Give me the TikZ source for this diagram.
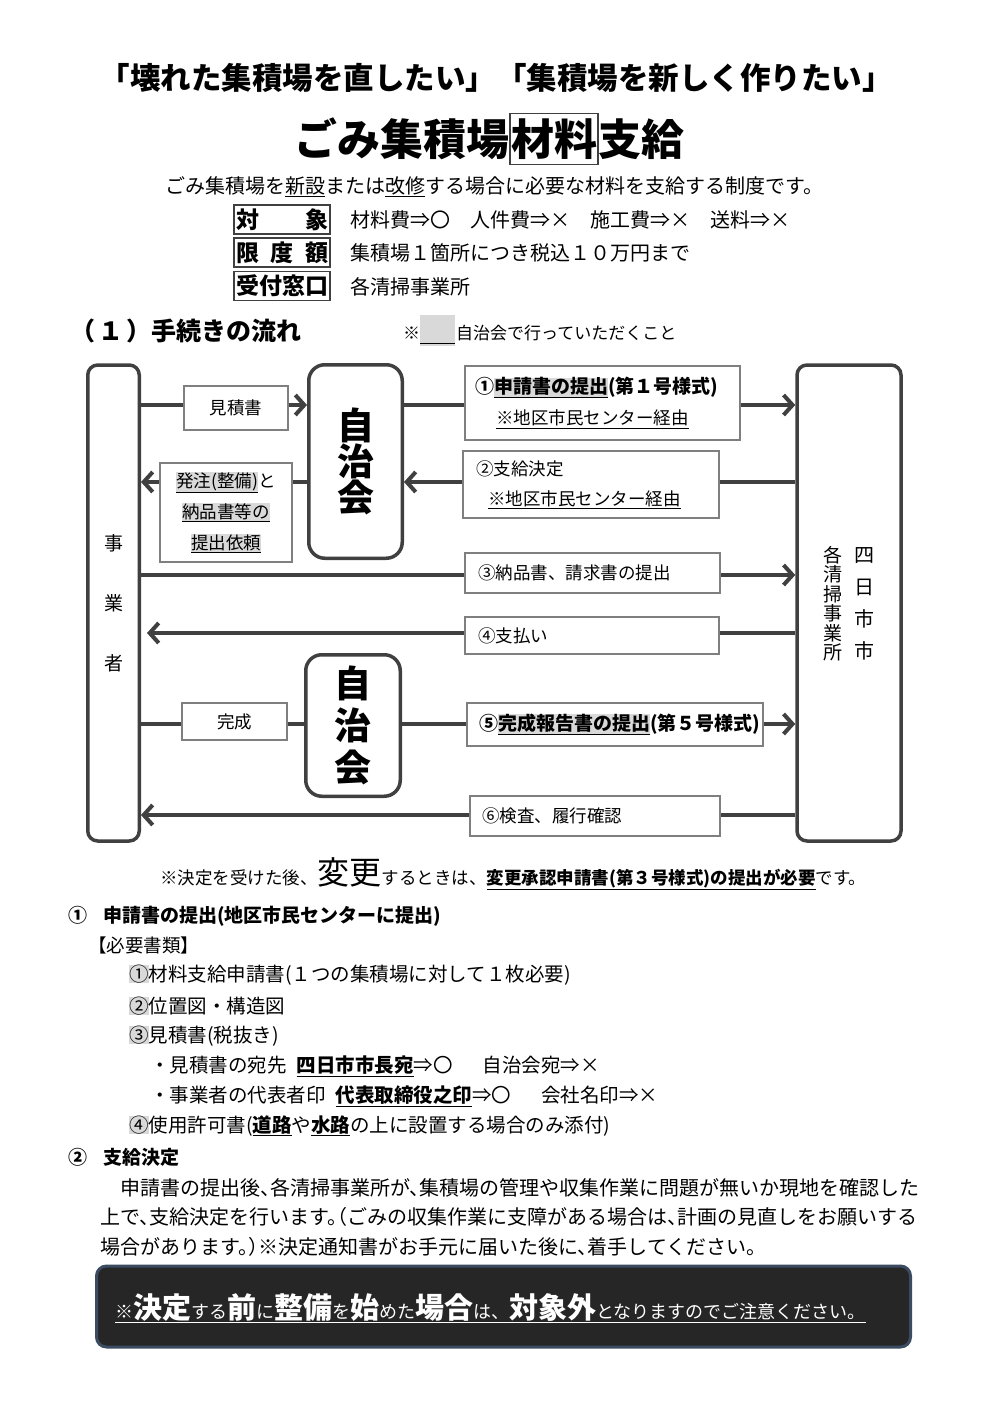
\documentclass[tikz,border=0pt]{standalone}
\usepackage{fontspec}
\setmainfont{Noto Sans CJK JP}
\usetikzlibrary{arrows.meta}
\definecolor{ln}{HTML}{404040}
\definecolor{bx}{HTML}{7F7F7F}
\definecolor{hl}{HTML}{D9D9D9}
\definecolor{dk}{HTML}{262626}
\definecolor{edgec}{HTML}{3B4B61}
\newcommand{\hlu}[1]{{\setlength{\fboxsep}{0pt}\colorbox{hl}{\underline{#1}}}}
\newcommand{\hlx}[1]{{\setlength{\fboxsep}{0pt}\colorbox{hl}{#1}}}
\newcommand{\fs}[1]{\fontsize{#1}{#1}\selectfont}
\newcommand{\BG}[1]{{\bfseries\fontsize{29}{29}\selectfont #1}}
\newcommand{\halt}{\addfontfeature{RawFeature=+halt}}
\begin{document}
\begin{tikzpicture}[x=1pt,y=-1pt,
  big/.style={draw=ln, line width=3.5pt, rounded corners=10pt, fill=white, inner sep=0pt},
  lab/.style={draw=bx, line width=1.2pt, fill=white, inner sep=0pt, font=\fontsize{17.5}{30}\selectfont},
  conn/.style={draw=ln, line width=4pt},
  arr/.style={conn, -{Straight Barb[length=9pt,width=20pt]}},
  hdr/.style={draw=ln, line width=1.5pt, inner sep=0pt, minimum width=96pt, minimum height=29pt, font=\bfseries\fs{23}},
  txt/.style={inner sep=0pt, anchor=west}
]
\fill[white] (0,0) rectangle (993,1404);
\useasboundingbox (0,0) rectangle (993,1404);

% titles
\node[inner sep=0pt, font=\bfseries\fs{30.5}] (t1) at (496,78) {「壊れた集積場を直したい」「集積場を新しく作りたい」};
\node[draw=ln, line width=1.2pt, inner xsep=1pt, inner ysep=5pt, font=\bfseries\fs{43}] (t2b) at (554,139) {材料};
\node[inner sep=0pt, anchor=east, font=\bfseries\fs{43}] (t2a) at (t2b.west) {ごみ集積場};
\node[inner sep=0pt, anchor=west, font=\bfseries\fs{43}] (t2c) at (t2b.east) {支給};
\node[inner sep=0pt, font=\fs{20}] (t3) at (494,187) {ごみ集積場を\underline{新設}または\underline{改修}する場合に必要な材料を支給する制度です。};

% header rows
\node[hdr] (h1) at (282,219.5) {\makebox[92pt][s]{対\hfill 象}};
\node[hdr] (h2) at (282,252.5) {\makebox[92pt][s]{限\hfill 度\hfill 額}};
\node[hdr] (h3) at (282,286) {受付窓口};
\node[txt, font=\fs{20}] (h1t) at (350,220) {材料費⇒〇　人件費⇒×　施工費⇒×　送料⇒×};
\node[txt, font=\fs{20}] (h2t) at (350,253) {集積場１箇所につき税込１０万円まで};
\node[txt, font=\fs{20}] (h3t) at (350,287) {各清掃事業所};

% section heading + legend
\node[txt, font=\bfseries\fs{25}] (sec) at (70,331) {（\hspace{3pt}１\hspace{3pt}）手続きの流れ};
\node[txt, font=\fs{17}] (lg1) at (403,333) {※};
\node[fill=hl, minimum width=35pt, minimum height=31pt, inner sep=0pt] (lgb) at (437.5,330.5) {};
\draw[line width=1pt] ([yshift=3pt]lgb.south west) -- ([yshift=3pt]lgb.south east);
\node[txt, font=\fs{17}] (lg2) at (456,333) {自治会で行っていただくこと};

% big boxes
\node[big, minimum width=51.5pt, minimum height=476pt, font=\fontsize{19}{60}\selectfont, align=center] (jig) at (113.5,603) {事\\業\\者};
\node[big, minimum width=104pt, minimum height=476pt] (rt) at (849,603) {};
\node[inner sep=0pt, font=\fontsize{19}{19.5}\selectfont, align=center] (rta) at (833,603.5) {各\\清\\掃\\事\\業\\所};
\node[inner sep=0pt, font=\fontsize{20}{32}\selectfont, align=center] (rtb) at (864,604) {四\\日\\市\\市};
\node[big, rounded corners=16pt, minimum width=93.5pt, minimum height=193.5pt, font=\bfseries\fontsize{37}{34}\selectfont, align=center] (ji1) at (355.5,461.5) {自\\治\\会};
\node[big, rounded corners=16pt, minimum width=94.5pt, minimum height=141.5pt, font=\bfseries\fontsize{37}{42}\selectfont, align=center] (ji2) at (353,725.5) {自\\治\\会};

% rows
\coordinate (r1) at (0,405);
\coordinate (r2) at (0,482);
\coordinate (r3) at (0,575);
\coordinate (r4) at (0,633);
\coordinate (r5) at (0,724);
\coordinate (r6) at (0,815);

\draw[arr] (jig.east |- r1) -- (ji1.west |- r1);
\draw[arr] (ji1.east |- r1) -- (rt.west |- r1);
\draw[arr] (ji1.west |- r2) -- (jig.east |- r2);
\draw[arr] (rt.west |- r2) -- (ji1.east |- r2);
\draw[arr] (jig.east |- r3) -- (rt.west |- r3);
\draw[arr, shorten >=6pt] (rt.west |- r4) -- (jig.east |- r4);
\draw[conn] (jig.east |- r5) -- (ji2.west |- r5);
\draw[arr] (ji2.east |- r5) -- (rt.west |- r5);
\draw[arr] (rt.west |- r6) -- (jig.east |- r6);

% labels
\node[lab, minimum width=104pt, minimum height=44pt] (mit) at (236,408) {見積書};
\node[lab, minimum width=275pt, minimum height=74pt, text width=255pt, align=left, font=\fontsize{17.5}{31}\selectfont] (b1) at (602.5,403)
  {{\bfseries\fs{19}①\hlu{申請書の提出}(第１号様式)}\\\hspace*{21pt}\underline{※地区市民センター経由}};
\node[lab, minimum width=256pt, minimum height=67pt, text width=230pt, align=left, font=\fontsize{17.5}{30}\selectfont] (b2) at (591,484.5)
  {②支給決定\\\hspace*{12pt}\underline{※地区市民センター経由}};
\node[lab, minimum width=132pt, minimum height=99pt, align=center, font=\fontsize{17.5}{31}\selectfont] (hat) at (226,512.5)
  {\hlu{発注(整備)}と\\\hlu{納品書等の}\\\hlu{提出依頼}};
\node[lab, minimum width=255pt, minimum height=40pt, text width=229pt, align=left] (b3) at (592.5,573) {③納品書、請求書の提出};
\node[lab, minimum width=254pt, minimum height=37pt, text width=228pt, align=left] (b4) at (592,635.5) {④支払い};
\node[lab, minimum width=105pt, minimum height=37pt] (kan) at (234.5,721.5) {完成};
\node[lab, minimum width=296pt, minimum height=43pt, text width=272pt, align=left] (b5) at (615,724.5)
  {{\bfseries\fs{19}⑤\hlu{完成報告書の提出}(第５号様式)}};
\node[lab, minimum width=250pt, minimum height=40pt, text width=226pt, align=left] (b6) at (595,816) {⑥検査、履行確認};

% note
\node[inner sep=0pt, anchor=base west, font=\fs{17.5}] (note) at (160,884)
  {※決定を受けた後、{\fs{32}変更}するときは、\underline{\bfseries 変更承認申請書(第３号様式)の提出が必要}です。};

% section 1
\node[txt, font=\bfseries\fs{19}] (s1) at (68,916) {①\hspace{16pt}申請書の提出(地区市民センターに提出)};
\node[txt, font=\fs{18.5}] (s1a) at (88,945) {【必要書類】};
\node[txt, font=\fs{19.5}] (s1b) at (129,975) {\hlx{①}材料支給申請書(１つの集積場に対して１枚必要)};
\node[txt, font=\fs{19.5}] (s1c) at (129,1006) {\hlx{②}位置図・構造図};
\node[txt, font=\fs{19.5}] (s1d) at (129,1036) {\hlx{③}見積書(税抜き)};
\node[txt, font=\fs{19.5}] (s1e) at (150,1066) {・見積書の宛先\hspace{10pt}\underline{\bfseries 四日市市長宛}⇒〇\hspace{30pt}自治会宛⇒×};
\node[txt, font=\fs{19.5}] (s1f) at (150,1096) {・事業者の代表者印\hspace{10pt}\underline{\bfseries 代表取締役之印}⇒〇\hspace{30pt}会社名印⇒×};
\node[txt, font=\fs{19.5}] (s1g) at (129,1126) {\hlx{④}使用許可書(\underline{\bfseries 道路}や\underline{\bfseries 水路}の上に設置する場合のみ添付)};

% section 2
\node[txt, font=\bfseries\fs{19}] (s2) at (68,1157) {②\hspace{16pt}支給決定};
\node[txt, font=\fs{20}\halt] (p1) at (100,1188) {　申請書の提出後、各清掃事業所が、集積場の管理や収集作業に問題が無いか現地を確認した};
\node[txt, font=\fs{20}\halt] (p2) at (100,1217) {上で、支給決定を行います。（ごみの収集作業に支障がある場合は、計画の見直しをお願いする};
\node[txt, font=\fs{20}\halt] (p3) at (100,1247) {場合があります。）※決定通知書がお手元に届いた後に、着手してください。};

% warning box
\node[fill=dk, draw=edgec, line width=3pt, rounded corners=10pt, minimum width=814pt, minimum height=81pt, inner sep=0pt] (warn) at (503.5,1306.5) {};
\node[inner sep=0pt, anchor=base west, text=white, font=\fs{18}] (wt) at (115,1318)
  {\underline{※\BG{決定}する\BG{前}に\BG{整備}を\BG{始}めた\BG{場合}は、\BG{対象外}となりますのでご注意ください。}};
\end{tikzpicture}
\end{document}
